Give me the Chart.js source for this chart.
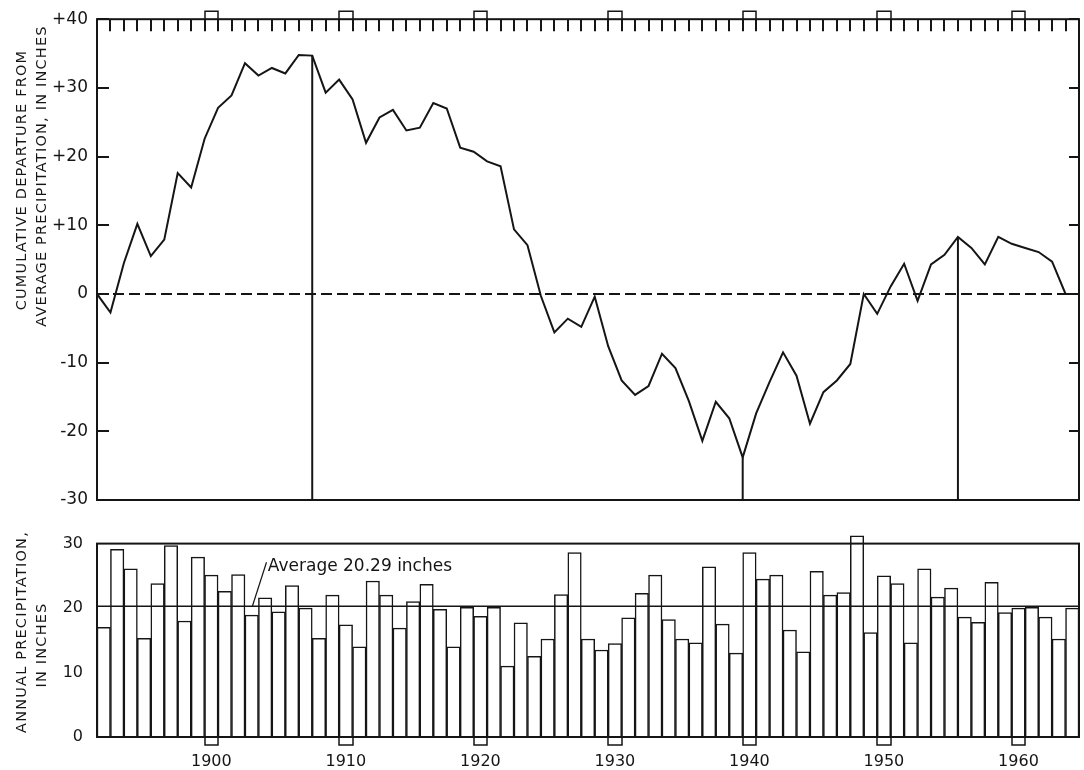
<!DOCTYPE html>
<html>
<head>
<meta charset="utf-8">
<title>Cumulative departure from average precipitation, 1892-1964</title>
<script src="https://cdn.jsdelivr.net/npm/chart.js@4.4.0/dist/chart.umd.min.js"></script>
<style>
  html, body { margin: 0; padding: 0; background: #fff; }
  #wrap { position: relative; width: 1084px; height: 770px; }
  canvas { position: absolute; left: 0; }
  #departure { top: 0; }
  #annual { top: 520px; }
</style>
</head>
<body>
<div id="wrap">
  <canvas id="departure" width="1084" height="520"></canvas>
  <canvas id="annual" width="1084" height="250"></canvas>
</div>
<script>
(function () {
  "use strict";

  /* ------------------------------------------------------------------
   * Data
   * ------------------------------------------------------------------ */
  const YEARS = [
    1892, 1893, 1894, 1895, 1896, 1897, 1898, 1899, 1900, 1901,
    1902, 1903, 1904, 1905, 1906, 1907, 1908, 1909, 1910, 1911,
    1912, 1913, 1914, 1915, 1916, 1917, 1918, 1919, 1920, 1921,
    1922, 1923, 1924, 1925, 1926, 1927, 1928, 1929, 1930, 1931,
    1932, 1933, 1934, 1935, 1936, 1937, 1938, 1939, 1940, 1941,
    1942, 1943, 1944, 1945, 1946, 1947, 1948, 1949, 1950, 1951,
    1952, 1953, 1954, 1955, 1956, 1957, 1958, 1959, 1960, 1961,
    1962, 1963, 1964
  ];

  // annual precipitation, inches
  const ANNUAL_PRECIP = [
    17.0, 29.1, 26.1, 15.3, 23.8, 29.7, 18.0, 27.9, 25.1, 22.6,
    25.2, 18.9, 21.6, 19.4, 23.5, 20.0, 15.3, 22.0, 17.4, 14.0,
    24.2, 22.0, 16.9, 21.0, 23.7, 19.8, 14.0, 20.1, 18.7, 20.1,
    11.0, 17.7, 12.5, 15.2, 22.1, 28.6, 15.2, 13.5, 14.5, 18.5,
    22.3, 25.1, 18.2, 15.2, 14.6, 26.4, 17.5, 13.0, 28.6, 24.5,
    25.1, 16.6, 13.2, 25.7, 22.0, 22.4, 31.2, 16.2, 25.0, 23.8,
    14.6, 26.1, 21.7, 23.1, 18.6, 17.8, 24.0, 19.3, 20.0, 20.1,
    18.6, 15.2, 20.0
  ];

  // cumulative departure at the end of each year, inches (1891 = start)
  const DEPARTURE_END_YEARS = [1891].concat(YEARS);
  const CUM_DEPARTURE = [
    0,
    -2.7, 4.5, 10.2, 5.5, 7.9, 17.6, 15.5, 22.6, 27.1, 28.9,
    33.6, 31.8, 32.9, 32.1, 34.8, 34.7, 29.3, 31.2, 28.3, 22.0,
    25.7, 26.8, 23.8, 24.2, 27.8, 27.0, 21.3, 20.7, 19.3, 18.6,
    9.4, 7.1, -0.3, -5.6, -3.6, -4.8, -0.4, -7.6, -12.6, -14.7,
    -13.4, -8.7, -10.8, -15.6, -21.4, -15.7, -18.1, -23.8, -17.4, -12.8,
    -8.5, -11.9, -18.9, -14.3, -12.6, -10.2, 0.0, -2.9, 1.1, 4.4,
    -1.0, 4.3, 5.7, 8.3, 6.7, 4.3, 8.3, 7.3, 6.7, 6.1,
    4.7, 0.0, 0.0
  ];

  const AVERAGE_PRECIP = 20.29;
  const MARKED_YEARS   = [1907, 1939, 1955];
  const X_TICKS        = [1900, 1910, 1920, 1930, 1940, 1950, 1960];
  const DEPARTURE_TICKS = [-30, -20, -10, 0, 10, 20, 30, 40];
  const PRECIP_TICKS   = [0, 10, 20, 30];

  /* ------------------------------------------------------------------
   * Shared styling
   * ------------------------------------------------------------------ */
  const INK  = "#151515";
  const FONT = "'DejaVu Sans', 'Liberation Sans', sans-serif";
  const X_MIN = YEARS[0] - 0.5;
  const X_MAX = YEARS[YEARS.length - 1] + 0.5;

  Chart.defaults.font.family = FONT;
  Chart.defaults.color = INK;

  function _rotatedLines(chart, lines) {
    const ctx = chart.ctx;
    ctx.save();
    ctx.fillStyle = INK;
    ctx.font = "14.5px " + FONT;
    ctx.letterSpacing = "1.2px";
    ctx.textAlign = "center";
    ctx.textBaseline = "middle";
    lines.forEach(function (l) {
      ctx.save();
      ctx.translate(l.x, l.y);
      ctx.rotate(-Math.PI / 2);
      ctx.fillText(l.text, 0, 0);
      ctx.restore();
    });
    ctx.restore();
  }

  /* ------------------------------------------------------------------
   * Upper panel: cumulative departure
   * ------------------------------------------------------------------ */
  const departurePoints = CUM_DEPARTURE.map(function (v, i) {
    return { x: DEPARTURE_END_YEARS[i] + 0.5, y: v };
  });

  const markerSets = MARKED_YEARS.map(function (yr) {
    const v = CUM_DEPARTURE[DEPARTURE_END_YEARS.indexOf(yr)];
    return {
      data: [{ x: yr + 0.5, y: v }, { x: yr + 0.5, y: DEPARTURE_TICKS[0] }],
      borderColor: INK,
      borderWidth: 2,
      pointRadius: 0,
    };
  });

  const departureFrame = {
    id: "departureFrame",
    afterDatasetsDraw: function (chart) {
      const ctx = chart.ctx;
      const a   = chart.chartArea;
      const sx  = chart.scales.x;
      const sy  = chart.scales.y;
      ctx.save();
      ctx.strokeStyle = INK;
      ctx.lineWidth = 2;
      ctx.strokeRect(a.left, a.top, a.right - a.left, a.bottom - a.top);

      ctx.beginPath();
      // one tick per year along the top edge
      for (let i = 0; i < YEARS.length - 1; i++) {
        const px = Math.round(sx.getPixelForValue(YEARS[i] + 0.5));
        ctx.moveTo(px, a.top);
        ctx.lineTo(px, a.top + 12);
      }
      // inward ticks on both sides
      DEPARTURE_TICKS.forEach(function (v) {
        const py = Math.round(sy.getPixelForValue(v));
        ctx.moveTo(a.left, py);  ctx.lineTo(a.left + 12, py);
        ctx.moveTo(a.right, py); ctx.lineTo(a.right - 10, py);
      });
      ctx.stroke();

      // decade notches above the top edge
      ctx.lineWidth = 1.5;
      X_TICKS.forEach(function (d) {
        const l = Math.round(sx.getPixelForValue(d - 0.5));
        const r = Math.round(sx.getPixelForValue(d + 0.5));
        ctx.beginPath();
        ctx.moveTo(l, a.top);
        ctx.lineTo(l, a.top - 8);
        ctx.lineTo(r, a.top - 8);
        ctx.lineTo(r, a.top);
        ctx.stroke();
      });
      ctx.restore();

      _rotatedLines(chart, [
        { text: "CUMULATIVE DEPARTURE FROM",        x: 22, y: 180 },
        { text: "AVERAGE PRECIPITATION, IN INCHES", x: 42, y: 176 },
      ]);
    },
  };

  new Chart(document.getElementById("departure"), {
    type: "line",
    data: {
      datasets: [
        {
          data: departurePoints,
          borderColor: INK,
          borderWidth: 2,
          pointRadius: 0,
          tension: 0,
        },
        {
          data: [{ x: X_MIN, y: 0 }, { x: X_MAX, y: 0 }],
          borderColor: INK,
          borderWidth: 2,
          borderDash: [11, 5],
          pointRadius: 0,
        },
      ].concat(markerSets),
    },
    options: {
      responsive: false,
      animation: false,
      layout: { padding: { top: 15, right: 5, bottom: 20, left: 0 } },
      plugins: { legend: { display: false }, tooltip: { enabled: false } },
      scales: {
        x: { type: "linear", min: X_MIN, max: X_MAX, display: false },
        y: {
          min: DEPARTURE_TICKS[0],
          max: DEPARTURE_TICKS[DEPARTURE_TICKS.length - 1],
          afterFit: function (s) { s.width = 97; },
          afterBuildTicks: function (s) {
            s.ticks = DEPARTURE_TICKS.map(function (v) { return { value: v }; });
          },
          ticks: {
            padding: 9,
            font: { size: 17 },
            color: INK,
            callback: function (v) { return v > 0 ? "+" + v : String(v); },
          },
          grid: { display: false, drawTicks: false },
          border: { display: false },
        },
      },
    },
    plugins: [departureFrame],
  });

  /* ------------------------------------------------------------------
   * Lower panel: annual precipitation
   * ------------------------------------------------------------------ */
  const annualFrame = {
    id: "annualFrame",
    afterDatasetsDraw: function (chart) {
      const ctx = chart.ctx;
      const a   = chart.chartArea;
      const sx  = chart.scales.x;
      const sy  = chart.scales.y;
      ctx.save();
      ctx.strokeStyle = INK;
      ctx.lineWidth = 2;
      ctx.strokeRect(a.left, a.top, a.right - a.left, a.bottom - a.top);

      // decade notches under the bottom edge
      ctx.lineWidth = 1.5;
      X_TICKS.forEach(function (d) {
        const l = Math.round(sx.getPixelForValue(d - 0.5));
        const r = Math.round(sx.getPixelForValue(d + 0.5));
        ctx.beginPath();
        ctx.moveTo(l, a.bottom);
        ctx.lineTo(l, a.bottom + 8);
        ctx.lineTo(r, a.bottom + 8);
        ctx.lineTo(r, a.bottom);
        ctx.stroke();
      });

      // label for the average line
      ctx.lineWidth = 1.2;
      ctx.beginPath();
      ctx.moveTo(sx.getPixelForValue(1903.05), sy.getPixelForValue(AVERAGE_PRECIP));
      ctx.lineTo(sx.getPixelForValue(1904.1), sy.getPixelForValue(27.1));
      ctx.stroke();
      ctx.fillStyle = INK;
      ctx.font = "17px " + FONT;
      ctx.textAlign = "left";
      ctx.textBaseline = "middle";
      ctx.fillText("Average " + AVERAGE_PRECIP.toFixed(2) + " inches",
        sx.getPixelForValue(1904.2), sy.getPixelForValue(26.4));
      ctx.restore();

      _rotatedLines(chart, [
        { text: "ANNUAL PRECIPITATION,", x: 22, y: 112 },
        { text: "IN INCHES",             x: 42, y: 125 },
      ]);
    },
  };

  new Chart(document.getElementById("annual"), {
    type: "bar",
    data: {
      datasets: [
        {
          type: "line",
          order: 0,
          data: [{ x: X_MIN, y: AVERAGE_PRECIP }, { x: X_MAX, y: AVERAGE_PRECIP }],
          borderColor: INK,
          borderWidth: 1.5,
          pointRadius: 0,
        },
        {
          order: 1,
          data: YEARS.map(function (yr, i) { return { x: yr, y: ANNUAL_PRECIP[i] }; }),
          backgroundColor: "#ffffff",
          borderColor: INK,
          borderWidth: 1.5,
          barPercentage: 1,
          categoryPercentage: 1,
          clip: false,
        },
      ],
    },
    options: {
      responsive: false,
      animation: false,
      layout: { padding: { top: 13, right: 5, bottom: 0, left: 0 } },
      plugins: { legend: { display: false }, tooltip: { enabled: false } },
      scales: {
        x: {
          type: "linear",
          min: X_MIN,
          max: X_MAX,
          offset: false,
          afterFit: function (s) { s.height = 33; },
          afterBuildTicks: function (s) {
            s.ticks = X_TICKS.map(function (v) { return { value: v }; });
          },
          ticks: {
            padding: 15,
            font: { size: 16 },
            color: INK,
            callback: function (v) { return String(v); },
          },
          grid: { display: false, drawTicks: false },
          border: { display: false },
        },
        y: {
          min: PRECIP_TICKS[0],
          max: PRECIP_TICKS[PRECIP_TICKS.length - 1],
          afterFit: function (s) { s.width = 97; },
          afterBuildTicks: function (s) {
            s.ticks = PRECIP_TICKS.map(function (v) { return { value: v }; });
          },
          ticks: { padding: 14, font: { size: 16 }, color: INK },
          grid: { display: false, drawTicks: false },
          border: { display: false },
        },
      },
    },
    plugins: [annualFrame],
  });
}());
</script>
</body>
</html>
